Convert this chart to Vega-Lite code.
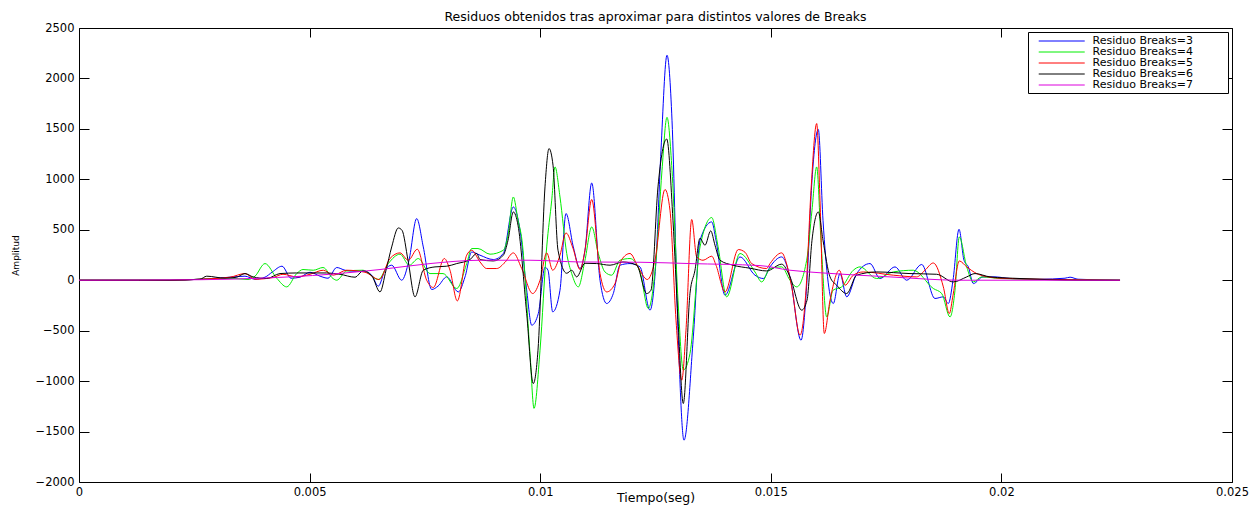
{
"$schema":"https://vega.github.io/schema/vega-lite/v6.json",
"width":1153,"height":454,
"autosize":"none",
"padding":{"left":79,"top":28,"right":20,"bottom":23},
"background":"white",
"title":{"text":"Residuos obtenidos tras aproximar para distintos valores de Breaks","font":"DejaVu Sans","fontSize":12.5,"fontWeight":"normal","color":"black","offset":-1,"frame":"group"},
"config":{"view":{"stroke":"black","strokeWidth":1},
"axis":{"grid":false,"ticks":true,"tickWidth":1,"domain":false,"tickColor":"black","labelColor":"black","titleColor":"black","labelFont":"DejaVu Sans","labelFontSize":11.5,"titleFont":"DejaVu Sans","titleFontWeight":"normal","labelOverlap":false,"labelBound":false,"labelFlush":false},
"legend":{"orient":"top-right","offset":4,"strokeColor":"black","fillColor":"white","padding":3,"symbolType":"M0.33,0H9.1","symbolSize":110,"symbolStrokeWidth":1,"labelOffset":49.5,"labelFont":"DejaVu Sans","labelFontSize":11,"labelColor":"black","rowPadding":0,"cornerRadius":0,"labelLimit":200}},
"data":{"values":[
{"k":3,"t":0,"v":0},{"k":3,"t":0.001973,"v":0},{"k":3,"t":0.002624,"v":10},{"k":3,"t":0.003274,"v":30},{"k":3,"t":0.003599,"v":40},{"k":3,"t":0.003816,"v":10},{"k":3,"t":0.004033,"v":30},{"k":3,"t":0.004185,"v":79},{"k":3,"t":0.004402,"v":139},{"k":3,"t":0.004597,"v":20},{"k":3,"t":0.004792,"v":30},{"k":3,"t":0.005009,"v":79},{"k":3,"t":0.005226,"v":40},{"k":3,"t":0.005399,"v":20},{"k":3,"t":0.005588,"v":126},{"k":3,"t":0.005768,"v":99},{"k":3,"t":0.005984,"v":89},{"k":3,"t":0.006158,"v":92},{"k":3,"t":0.006347,"v":50},{"k":3,"t":0.00649,"v":-59},{"k":3,"t":0.006635,"v":99},{"k":3,"t":0.00678,"v":149},{"k":3,"t":0.006997,"v":0},{"k":3,"t":0.007155,"v":198},{"k":3,"t":0.007322,"v":611},{"k":3,"t":0.007465,"v":330},{"k":3,"t":0.007647,"v":-92},{"k":3,"t":0.007784,"v":-59},{"k":3,"t":0.007973,"v":33},{"k":3,"t":0.008224,"v":-116},{"k":3,"t":0.00837,"v":33},{"k":3,"t":0.008515,"v":280},{"k":3,"t":0.008695,"v":248},{"k":3,"t":0.008983,"v":205},{"k":3,"t":0.0092,"v":265},{"k":3,"t":0.009417,"v":726},{"k":3,"t":0.009562,"v":497},{"k":3,"t":0.009707,"v":-97},{"k":3,"t":0.009816,"v":-446},{"k":3,"t":0.009959,"v":-330},{"k":3,"t":0.010104,"v":129},{"k":3,"t":0.010169,"v":99},{"k":3,"t":0.010271,"v":-314},{"k":3,"t":0.010429,"v":-99},{"k":3,"t":0.010559,"v":661},{"k":3,"t":0.010718,"v":330},{"k":3,"t":0.010863,"v":116},{"k":3,"t":0.010971,"v":297},{"k":3,"t":0.011117,"v":964},{"k":3,"t":0.011297,"v":0},{"k":3,"t":0.011442,"v":-231},{"k":3,"t":0.011585,"v":-132},{"k":3,"t":0.01173,"v":149},{"k":3,"t":0.011947,"v":165},{"k":3,"t":0.012164,"v":132},{"k":3,"t":0.012381,"v":-297},{"k":3,"t":0.012511,"v":198},{"k":3,"t":0.012619,"v":1288},{"k":3,"t":0.012749,"v":2230},{"k":3,"t":0.012858,"v":1586},{"k":3,"t":0.012988,"v":-495},{"k":3,"t":0.013118,"v":-1586},{"k":3,"t":0.01332,"v":-562},{"k":3,"t":0.013465,"v":396},{"k":3,"t":0.013719,"v":578},{"k":3,"t":0.013812,"v":396},{"k":3,"t":0.014007,"v":-149},{"k":3,"t":0.014332,"v":231},{"k":3,"t":0.014657,"v":50},{"k":3,"t":0.014838,"v":17},{"k":3,"t":0.014983,"v":132},{"k":3,"t":0.015236,"v":231},{"k":3,"t":0.015416,"v":33},{"k":3,"t":0.015655,"v":-595},{"k":3,"t":0.015785,"v":0},{"k":3,"t":0.015893,"v":991},{"k":3,"t":0.01603,"v":1494},{"k":3,"t":0.016132,"v":594},{"k":3,"t":0.016355,"v":-231},{"k":3,"t":0.0165,"v":66},{"k":3,"t":0.016646,"v":-165},{"k":3,"t":0.016863,"v":66},{"k":3,"t":0.017151,"v":165},{"k":3,"t":0.017368,"v":17},{"k":3,"t":0.017693,"v":132},{"k":3,"t":0.017947,"v":0},{"k":3,"t":0.018272,"v":156},{"k":3,"t":0.01856,"v":-181},{"k":3,"t":0.018741,"v":-165},{"k":3,"t":0.018849,"v":-231},{"k":3,"t":0.018951,"v":0},{"k":3,"t":0.019081,"v":505},{"k":3,"t":0.019189,"v":198},{"k":3,"t":0.019283,"v":132},{"k":3,"t":0.019391,"v":-33},{"k":3,"t":0.019601,"v":33},{"k":3,"t":0.019861,"v":33},{"k":3,"t":0.020187,"v":17},{"k":3,"t":0.020837,"v":10},{"k":3,"t":0.021379,"v":20},{"k":3,"t":0.021488,"v":30},{"k":3,"t":0.021661,"v":10},{"k":3,"t":0.022572,"v":0},
{"k":4,"t":0,"v":0},{"k":4,"t":0.001973,"v":0},{"k":4,"t":0.002624,"v":10},{"k":4,"t":0.003274,"v":20},{"k":4,"t":0.003664,"v":7},{"k":4,"t":0.003816,"v":40},{"k":4,"t":0.004033,"v":165},{"k":4,"t":0.004287,"v":20},{"k":4,"t":0.004503,"v":-66},{"k":4,"t":0.00472,"v":66},{"k":4,"t":0.004857,"v":106},{"k":4,"t":0.00508,"v":99},{"k":4,"t":0.005291,"v":126},{"k":4,"t":0.005507,"v":17},{"k":4,"t":0.005588,"v":0},{"k":4,"t":0.005804,"v":92},{"k":4,"t":0.006158,"v":99},{"k":4,"t":0.00649,"v":7},{"k":4,"t":0.006706,"v":165},{"k":4,"t":0.00696,"v":258},{"k":4,"t":0.007162,"v":149},{"k":4,"t":0.007357,"v":215},{"k":4,"t":0.007611,"v":66},{"k":4,"t":0.007893,"v":66},{"k":4,"t":0.00819,"v":-82},{"k":4,"t":0.008406,"v":165},{"k":4,"t":0.008515,"v":314},{"k":4,"t":0.008651,"v":314},{"k":4,"t":0.008912,"v":258},{"k":4,"t":0.0092,"v":297},{"k":4,"t":0.009302,"v":446},{"k":4,"t":0.009417,"v":825},{"k":4,"t":0.009519,"v":595},{"k":4,"t":0.009605,"v":396},{"k":4,"t":0.009779,"v":-726},{"k":4,"t":0.009866,"v":-1270},{"k":4,"t":0.009996,"v":-694},{"k":4,"t":0.010141,"v":330},{"k":4,"t":0.01025,"v":793},{"k":4,"t":0.010321,"v":1123},{"k":4,"t":0.010429,"v":825},{"k":4,"t":0.010575,"v":265},{"k":4,"t":0.010683,"v":66},{"k":4,"t":0.010826,"v":-66},{"k":4,"t":0.010971,"v":198},{"k":4,"t":0.011117,"v":528},{"k":4,"t":0.01126,"v":265},{"k":4,"t":0.011405,"v":82},{"k":4,"t":0.01155,"v":50},{"k":4,"t":0.01173,"v":198},{"k":4,"t":0.011947,"v":215},{"k":4,"t":0.012164,"v":82},{"k":4,"t":0.012344,"v":-280},{"k":4,"t":0.012511,"v":198},{"k":4,"t":0.012641,"v":1090},{"k":4,"t":0.012749,"v":1615},{"k":4,"t":0.012858,"v":1090},{"k":4,"t":0.012988,"v":-198},{"k":4,"t":0.013103,"v":-890},{"k":4,"t":0.013248,"v":-726},{"k":4,"t":0.013465,"v":330},{"k":4,"t":0.013719,"v":621},{"k":4,"t":0.013855,"v":337},{"k":4,"t":0.014044,"v":-165},{"k":4,"t":0.014332,"v":265},{"k":4,"t":0.014657,"v":82},{"k":4,"t":0.014803,"v":-17},{"k":4,"t":0.014983,"v":116},{"k":4,"t":0.015236,"v":132},{"k":4,"t":0.015416,"v":0},{"k":4,"t":0.015562,"v":-66},{"k":4,"t":0.015778,"v":198},{"k":4,"t":0.015893,"v":694},{"k":4,"t":0.015995,"v":1123},{"k":4,"t":0.016088,"v":396},{"k":4,"t":0.016212,"v":-364},{"k":4,"t":0.016349,"v":-99},{"k":4,"t":0.016537,"v":-66},{"k":4,"t":0.016789,"v":99},{"k":4,"t":0.016934,"v":132},{"k":4,"t":0.017296,"v":17},{"k":4,"t":0.017656,"v":82},{"k":4,"t":0.01809,"v":99},{"k":4,"t":0.018523,"v":-82},{"k":4,"t":0.018706,"v":-132},{"k":4,"t":0.018886,"v":-364},{"k":4,"t":0.018994,"v":-99},{"k":4,"t":0.019087,"v":429},{"k":4,"t":0.019248,"v":132},{"k":4,"t":0.019391,"v":-17},{"k":4,"t":0.019573,"v":33},{"k":4,"t":0.01997,"v":17},{"k":4,"t":0.02062,"v":10},{"k":4,"t":0.022572,"v":0},
{"k":5,"t":0,"v":0},{"k":5,"t":0.001973,"v":0},{"k":5,"t":0.002624,"v":10},{"k":5,"t":0.003274,"v":30},{"k":5,"t":0.003599,"v":66},{"k":5,"t":0.003816,"v":10},{"k":5,"t":0.004206,"v":27},{"k":5,"t":0.004423,"v":59},{"k":5,"t":0.00472,"v":33},{"k":5,"t":0.005009,"v":59},{"k":5,"t":0.005297,"v":99},{"k":5,"t":0.005514,"v":50},{"k":5,"t":0.005804,"v":99},{"k":5,"t":0.006201,"v":79},{"k":5,"t":0.006511,"v":7},{"k":5,"t":0.006743,"v":215},{"k":5,"t":0.00696,"v":271},{"k":5,"t":0.00714,"v":198},{"k":5,"t":0.007335,"v":307},{"k":5,"t":0.007539,"v":0},{"k":5,"t":0.007682,"v":-72},{"k":5,"t":0.007921,"v":215},{"k":5,"t":0.008044,"v":99},{"k":5,"t":0.008203,"v":-205},{"k":5,"t":0.008406,"v":248},{"k":5,"t":0.008515,"v":297},{"k":5,"t":0.008695,"v":181},{"k":5,"t":0.00884,"v":116},{"k":5,"t":0.009057,"v":116},{"k":5,"t":0.009237,"v":178},{"k":5,"t":0.009417,"v":271},{"k":5,"t":0.009599,"v":116},{"k":5,"t":0.009837,"v":-132},{"k":5,"t":0.009996,"v":0},{"k":5,"t":0.010141,"v":271},{"k":5,"t":0.010271,"v":99},{"k":5,"t":0.010429,"v":248},{"k":5,"t":0.010559,"v":469},{"k":5,"t":0.010711,"v":317},{"k":5,"t":0.010863,"v":106},{"k":5,"t":0.010971,"v":297},{"k":5,"t":0.011117,"v":800},{"k":5,"t":0.011297,"v":66},{"k":5,"t":0.011442,"v":-116},{"k":5,"t":0.011622,"v":-33},{"k":5,"t":0.011767,"v":205},{"k":5,"t":0.011947,"v":265},{"k":5,"t":0.012121,"v":132},{"k":5,"t":0.012322,"v":7},{"k":5,"t":0.012489,"v":198},{"k":5,"t":0.012706,"v":899},{"k":5,"t":0.012814,"v":694},{"k":5,"t":0.012945,"v":-396},{"k":5,"t":0.013068,"v":-991},{"k":5,"t":0.013161,"v":-495},{"k":5,"t":0.013285,"v":602},{"k":5,"t":0.013393,"v":231},{"k":5,"t":0.01353,"v":198},{"k":5,"t":0.013719,"v":238},{"k":5,"t":0.013812,"v":149},{"k":5,"t":0.014007,"v":-116},{"k":5,"t":0.014296,"v":304},{"k":5,"t":0.014441,"v":277},{"k":5,"t":0.014586,"v":165},{"k":5,"t":0.014911,"v":116},{"k":5,"t":0.014983,"v":165},{"k":5,"t":0.015236,"v":271},{"k":5,"t":0.015351,"v":149},{"k":5,"t":0.015453,"v":-66},{"k":5,"t":0.015633,"v":-545},{"k":5,"t":0.015763,"v":-99},{"k":5,"t":0.015872,"v":892},{"k":5,"t":0.015995,"v":1553},{"k":5,"t":0.016067,"v":793},{"k":5,"t":0.01616,"v":-528},{"k":5,"t":0.016284,"v":-198},{"k":5,"t":0.016485,"v":99},{"k":5,"t":0.016609,"v":-50},{"k":5,"t":0.016789,"v":50},{"k":5,"t":0.017006,"v":82},{"k":5,"t":0.017656,"v":50},{"k":5,"t":0.018163,"v":33},{"k":5,"t":0.018343,"v":99},{"k":5,"t":0.018523,"v":171},{"k":5,"t":0.018741,"v":-66},{"k":5,"t":0.018871,"v":-330},{"k":5,"t":0.018951,"v":-149},{"k":5,"t":0.019087,"v":191},{"k":5,"t":0.019248,"v":132},{"k":5,"t":0.019465,"v":66},{"k":5,"t":0.019753,"v":30},{"k":5,"t":0.01997,"v":20},{"k":5,"t":0.020837,"v":10},{"k":5,"t":0.022572,"v":0},
{"k":6,"t":0,"v":0},{"k":6,"t":0.001973,"v":0},{"k":6,"t":0.002624,"v":10},{"k":6,"t":0.002769,"v":40},{"k":6,"t":0.003166,"v":20},{"k":6,"t":0.003419,"v":30},{"k":6,"t":0.003599,"v":66},{"k":6,"t":0.003773,"v":33},{"k":6,"t":0.00407,"v":17},{"k":6,"t":0.004358,"v":66},{"k":6,"t":0.00472,"v":72},{"k":6,"t":0.005074,"v":72},{"k":6,"t":0.005371,"v":72},{"k":6,"t":0.005659,"v":59},{"k":6,"t":0.005984,"v":30},{"k":6,"t":0.006158,"v":92},{"k":6,"t":0.006353,"v":40},{"k":6,"t":0.006527,"v":-116},{"k":6,"t":0.006657,"v":99},{"k":6,"t":0.00678,"v":330},{"k":6,"t":0.006923,"v":518},{"k":6,"t":0.007004,"v":495},{"k":6,"t":0.007134,"v":198},{"k":6,"t":0.007285,"v":-165},{"k":6,"t":0.007465,"v":99},{"k":6,"t":0.007719,"v":132},{"k":6,"t":0.007973,"v":139},{"k":6,"t":0.00819,"v":165},{"k":6,"t":0.008478,"v":205},{"k":6,"t":0.008623,"v":265},{"k":6,"t":0.008695,"v":205},{"k":6,"t":0.008983,"v":191},{"k":6,"t":0.0092,"v":248},{"k":6,"t":0.009302,"v":396},{"k":6,"t":0.009417,"v":677},{"k":6,"t":0.009519,"v":545},{"k":6,"t":0.009707,"v":-330},{"k":6,"t":0.00985,"v":-1024},{"k":6,"t":0.009952,"v":-694},{"k":6,"t":0.010104,"v":925},{"k":6,"t":0.010191,"v":1305},{"k":6,"t":0.010278,"v":1140},{"k":6,"t":0.010386,"v":297},{"k":6,"t":0.010575,"v":69},{"k":6,"t":0.010683,"v":99},{"k":6,"t":0.010791,"v":33},{"k":6,"t":0.010971,"v":168},{"k":6,"t":0.011225,"v":165},{"k":6,"t":0.011514,"v":149},{"k":6,"t":0.011795,"v":181},{"k":6,"t":0.012093,"v":149},{"k":6,"t":0.012309,"v":-132},{"k":6,"t":0.012402,"v":-99},{"k":6,"t":0.012554,"v":925},{"k":6,"t":0.012743,"v":1400},{"k":6,"t":0.012879,"v":595},{"k":6,"t":0.012988,"v":-396},{"k":6,"t":0.013103,"v":-1222},{"k":6,"t":0.013248,"v":-129},{"k":6,"t":0.013356,"v":99},{"k":6,"t":0.013465,"v":416},{"k":6,"t":0.013573,"v":347},{"k":6,"t":0.013697,"v":489},{"k":6,"t":0.01379,"v":347},{"k":6,"t":0.013899,"v":198},{"k":6,"t":0.01418,"v":149},{"k":6,"t":0.014549,"v":119},{"k":6,"t":0.014911,"v":92},{"k":6,"t":0.015236,"v":159},{"k":6,"t":0.015416,"v":33},{"k":6,"t":0.01567,"v":-297},{"k":6,"t":0.015785,"v":-198},{"k":6,"t":0.015893,"v":396},{"k":6,"t":0.01603,"v":677},{"k":6,"t":0.016132,"v":396},{"k":6,"t":0.016284,"v":33},{"k":6,"t":0.016429,"v":-50},{"k":6,"t":0.016646,"v":-132},{"k":6,"t":0.016863,"v":50},{"k":6,"t":0.017296,"v":82},{"k":6,"t":0.018018,"v":66},{"k":6,"t":0.018597,"v":59},{"k":6,"t":0.018957,"v":-17},{"k":6,"t":0.019248,"v":33},{"k":6,"t":0.019428,"v":66},{"k":6,"t":0.019753,"v":33},{"k":6,"t":0.020403,"v":17},{"k":6,"t":0.021704,"v":0},{"k":6,"t":0.022572,"v":0},
{"k":7,"t":0,"v":0},{"k":7,"t":0.002624,"v":5},{"k":7,"t":0.003925,"v":20},{"k":7,"t":0.005442,"v":59},{"k":7,"t":0.006527,"v":106},{"k":7,"t":0.007611,"v":165},{"k":7,"t":0.008695,"v":198},{"k":7,"t":0.009779,"v":198},{"k":7,"t":0.010863,"v":181},{"k":7,"t":0.012164,"v":178},{"k":7,"t":0.013248,"v":165},{"k":7,"t":0.014766,"v":145},{"k":7,"t":0.015416,"v":99},{"k":7,"t":0.016132,"v":72},{"k":7,"t":0.017585,"v":33},{"k":7,"t":0.019103,"v":0},{"k":7,"t":0.022572,"v":0}
]},
"layer":[
{"mark":{"type":"line","strokeWidth":1,"clip":true,"interpolate":"monotone"},
 "encoding":{
  "x":{"field":"t","type":"quantitative","scale":{"domain":[0,0.025],"nice":false,"zero":false},
       "axis":{"orient":"bottom","values":[0,0.005,0.01,0.015,0.02,0.025],"format":".3~f","offset":-9,"tickSize":9,"labelPadding":4,"title":"Tiempo(seg)","titleFontSize":12.5,"titlePadding":-6}},
  "y":{"field":"v","type":"quantitative","scale":{"domain":[-2000,2500],"nice":false},
       "axis":{"orient":"left","values":[-2000,-1500,-1000,-500,0,500,1000,1500,2000,2500],"format":"d","offset":-10,"tickSize":10,"labelPadding":5,"title":"Amplitud","titleFontSize":9,"titlePadding":15}},
  "color":{"field":"k","type":"nominal","scale":{"domain":[3,4,5,6,7],"range":["#0000ff","#00ee00","#ff0000","#000000","#dd00dd"]},
       "legend":{"title":null,"labelExpr":"'Residuo Breaks=' + datum.label + '\u00a0\u00a0\u00a0\u00a0\u00a0\u00a0\u00a0\u00a0\u00a0\u200b'"}}
 }},
{"mark":{"type":"line","opacity":0},
 "encoding":{
  "x":{"field":"t","type":"quantitative","axis":{"orient":"top","values":[0,0.005,0.01,0.015,0.02,0.025],"labels":false,"offset":-9,"tickSize":9,"title":null,"minExtent":0,"maxExtent":0}},
  "y":{"field":"v","type":"quantitative","axis":{"orient":"right","values":[-2000,-1500,-1000,-500,0,500,1000,1500,2000,2500],"labels":false,"offset":-10,"tickSize":10,"title":null,"minExtent":0,"maxExtent":0}}
 }}
],
"resolve":{"axis":{"x":"independent","y":"independent"}}
}
